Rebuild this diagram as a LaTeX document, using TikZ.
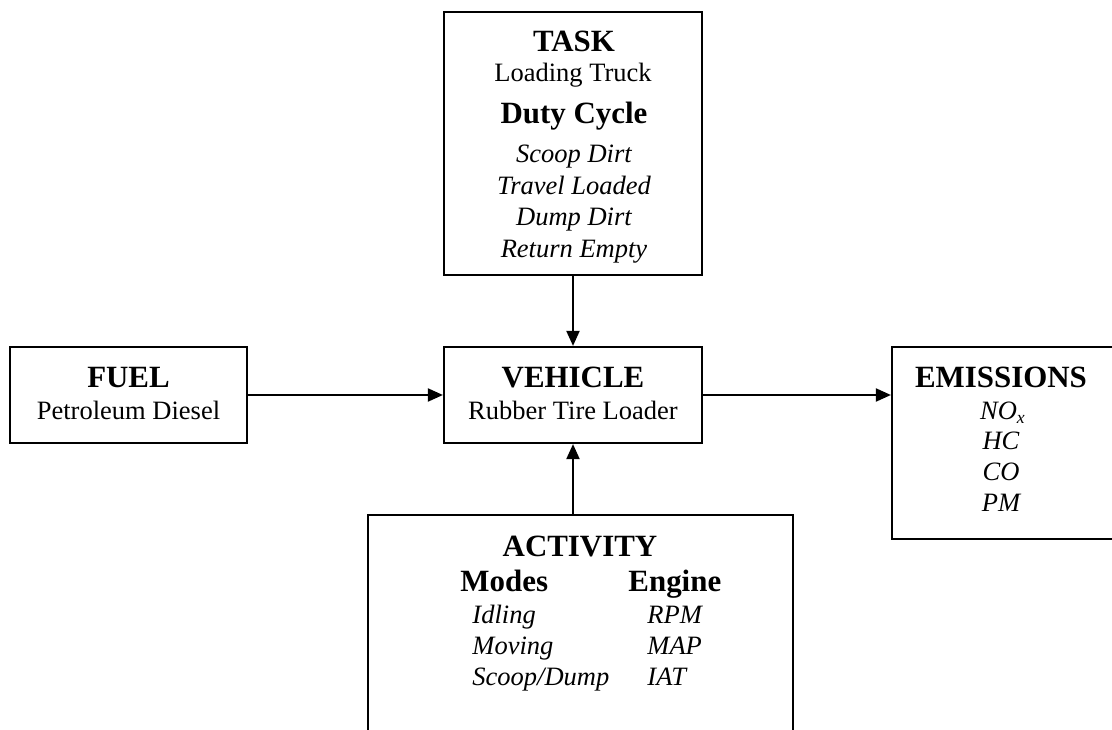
\documentclass[tikz,border=0pt]{standalone}
\usepackage{fontspec}
\setmainfont{Liberation Serif}
\usetikzlibrary{arrows.meta,fit}
\begin{document}
\begin{tikzpicture}[x=0.4528pt,y=-0.4528pt,
  box/.style={draw, line width=1pt, rectangle, inner sep=0pt},
  hd/.style={anchor=base, inner sep=0pt, font=\fontsize{14}{16}\selectfont\bfseries},
  tx/.style={anchor=base, inner sep=0pt, font=\fontsize{12}{14}\selectfont},
  it/.style={anchor=base, inner sep=0pt, font=\fontsize{12}{14}\selectfont\itshape},
  itl/.style={it, anchor=base west},
  hdl/.style={hd, anchor=base west},
  arr/.style={-{Triangle[length=6.8pt,width=5.9pt]}, line width=0.9pt}]
\useasboundingbox (0,0) rectangle (1112,730);
% boxes
\node[box, fit={(444,12) (702,275)}] (task) {};
\node[box, fit={(10,347) (247,443)}] (fuel) {};
\node[box, fit={(444,347) (702,443)}] (vehicle) {};
\node[box, fit={(892,347) (1130,539)}] (emis) {};
\node[box, fit={(368,515) (793,750)}] (act) {};
% TASK text
\node[hd] (t1) at (574,52) {TASK};
\node[tx] (t2) at (573,82) {Loading Truck};
\node[hd] (t3) at (574,124) {Duty Cycle};
\node[it] (t4) at (574,163) {Scoop Dirt};
\node[it] (t5) at (574,195) {Travel Loaded};
\node[it] (t6) at (574,226) {Dump Dirt};
\node[it] (t7) at (574,258) {Return Empty};
% FUEL text
\node[hd] (f1) at (128.5,388) {FUEL};
\node[tx] (f2) at (128.5,420) {Petroleum Diesel};
% VEHICLE text
\node[hd] (v1) at (573,388) {VEHICLE};
\node[tx] (v2) at (573,420) {Rubber Tire Loader};
% EMISSIONS text
\node[hd] (e1) at (1001,388) {EMISSIONS};
\node[it] (e2) at (1003,420) {NO\textsubscript{x}};
\node[it] (e3) at (1001,450) {HC};
\node[it] (e4) at (1001,481) {CO};
\node[it] (e5) at (1001,511) {PM};
% ACTIVITY text
\node[hd] (a1) at (580,556) {ACTIVITY};
\node[hdl] (a2) at (460,592) {Modes};
\node[hdl] (a3) at (628,592) {Engine};
\node[itl] (a4) at (472,623) {Idling};
\node[itl] (a5) at (472,654) {Moving};
\node[itl] (a6) at (472,685) {Scoop/Dump};
\node[itl] (a7) at (647,623) {RPM};
\node[itl] (a8) at (647,654) {MAP};
\node[itl] (a9) at (647,685) {IAT};
% connectors
\draw[arr] (task.south) -- (vehicle.north);
\draw[arr] (fuel.east) -- (vehicle.west);
\draw[arr] (vehicle.east) -- (vehicle.east -| emis.west);
\draw[arr] (act.north -| vehicle.south) -- (vehicle.south);
\end{tikzpicture}
\end{document}
